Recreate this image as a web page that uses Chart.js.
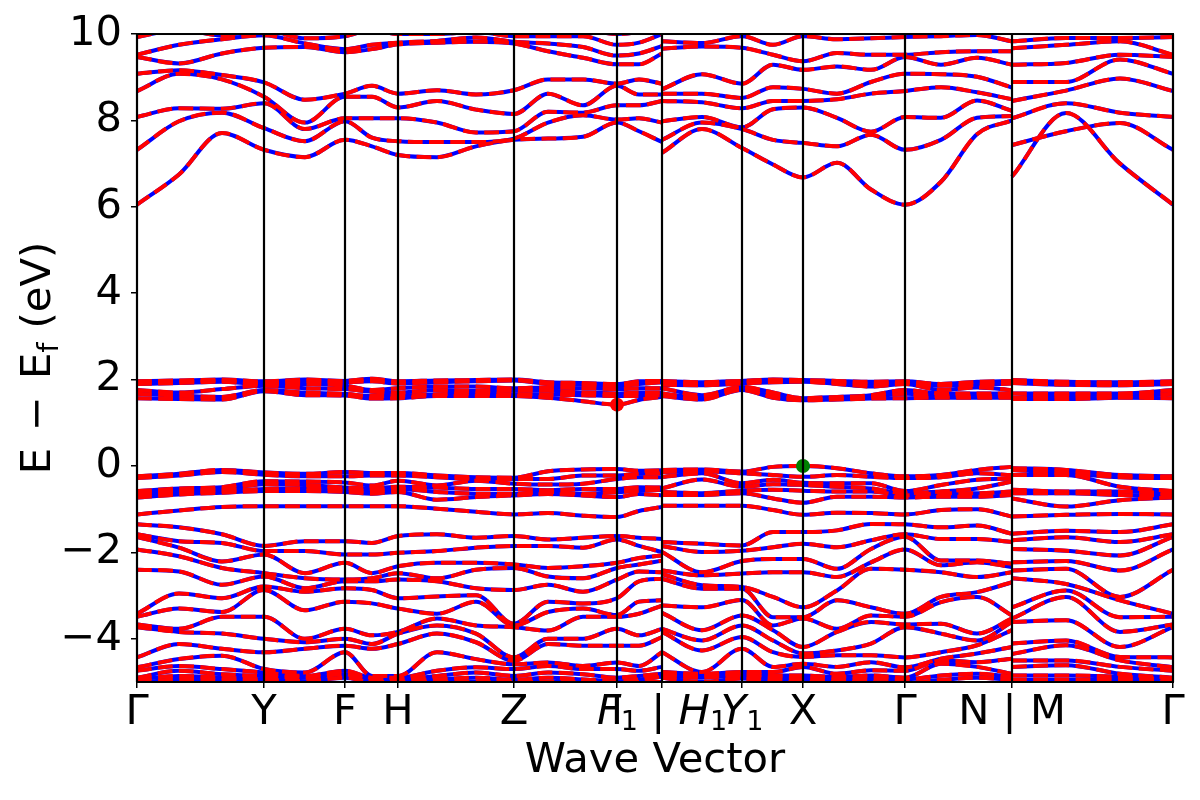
<!DOCTYPE html>
<html><head><meta charset="utf-8">
<script src="https://cdn.jsdelivr.net/npm/chart.js@4/dist/chart.umd.min.js"></script>
<style>html,body{margin:0;padding:0;background:#fff;}#wrap{width:1200px;height:800px;}</style>
</head><body><div id="wrap"><canvas id="c" width="1200" height="800"></canvas></div>
<script>
// ---- k-path (distance along path) ----
const tickPositions = [0, 127, 208, 261, 377, 480, 525, 605, 666, 768, 875, 1036];
const tickLabels = ["Γ", "Y", "F", "H", "Z", "I", "F₁ | H₁", "Y₁", "X", "Γ", "N | M", "Γ"];
const italicTickIdx = [6, 7];
const sampleK = [0, 42, 85, 127, 168, 208, 235, 261, 300, 339, 377, 411, 446, 480, 502, 525,
                 525, 565, 605, 636, 666, 700, 734, 768, 804, 840, 875,
                 875, 929, 983, 1036];
const pathBreaks = [16, 27];
const yTicks = [-4, -2, 0, 2, 4, 6, 8, 10];
const cbmK = [480], cbmE = [1.42];
const vbmK = [666], vbmE = [0.0];

// ---- energies (eV) at each sample k ----
const upperConduction = [
[6.05,7.32,8.08,8.68,9.08,9.47,9.52,9.93,10.30],
[6.75,7.98,8.28,9.08,9.16,9.32,9.75,10.10,10.40],
[7.71,8.18,8.27,8.95,9.05,9.55,9.88,9.97,10.30],
[7.32,7.82,8.40,8.55,8.88,9.68,9.97,10.10,10.40],
[7.15,7.52,7.80,7.95,8.48,9.70,9.78,9.90,10.30],
[7.55,7.98,8.05,8.55,8.62,9.58,9.65,9.95,10.20],
[7.40,7.60,8.05,8.55,8.80,9.65,9.75,10.10,10.30],
[7.20,7.52,8.05,8.30,8.62,9.76,9.80,10.00,10.30],
[7.15,7.50,7.95,8.45,8.70,9.80,9.84,10.00,10.30],
[7.40,7.50,7.72,8.25,8.60,9.82,9.92,10.05,10.30],
[7.55,7.58,7.75,8.15,8.70,9.78,9.82,9.95,10.20],
[7.58,7.95,8.20,8.62,8.95,9.60,9.78,9.95,10.10],
[7.62,8.12,8.18,8.35,8.95,9.45,9.70,9.95,10.10],
[7.95,8.02,8.35,8.80,8.85,9.30,9.50,9.75,10.00],
[7.75,8.05,8.35,8.60,8.95,9.30,9.55,9.80,10.05],
[7.50,7.95,8.45,8.60,8.85,9.55,9.72,10.00,10.20],
[7.25,7.55,7.98,8.45,8.62,8.72,9.66,9.83,10.10],
[7.80,7.95,8.08,8.42,8.62,9.07,9.71,9.79,10.10],
[7.36,7.80,7.84,8.28,8.52,8.85,9.68,9.95,10.10],
[6.98,7.55,8.26,8.45,8.77,9.29,9.52,9.75,10.10],
[6.68,7.48,8.30,8.45,8.73,9.17,9.37,9.95,10.20],
[7.02,7.40,8.06,8.49,8.62,9.25,9.56,9.88,10.10],
[6.40,7.67,7.74,8.62,8.89,9.17,9.52,9.90,10.10],
[6.05,7.32,8.08,8.68,9.08,9.47,9.52,9.93,10.30],
[6.58,7.55,8.06,8.77,9.07,9.29,9.58,9.95,10.20],
[7.68,8.06,8.46,8.65,9.01,9.45,9.60,9.98,10.20],
[8.00,8.10,8.22,8.49,8.76,9.29,9.60,9.83,10.10],
[6.70,7.43,8.05,8.45,8.89,9.29,9.67,9.83,10.10],
[8.17,7.75,8.40,8.69,8.89,9.33,9.75,9.91,10.10],
[7.00,7.94,8.18,8.97,9.41,9.52,9.83,9.91,10.10],
[6.05,7.32,8.08,8.68,9.08,9.47,9.52,9.93,10.30]
];
const lowerConduction = [
[1.57,1.67,1.76,1.90,1.93,1.96],
[1.55,1.63,1.70,1.92,1.95,1.98],
[1.54,1.60,1.78,1.95,1.97,2.00],
[1.73,1.76,1.86,1.89,1.92,1.96],
[1.64,1.70,1.80,1.90,1.97,2.00],
[1.63,1.67,1.78,1.86,1.94,1.97],
[1.56,1.62,1.72,1.76,1.96,2.02],
[1.57,1.63,1.70,1.80,1.91,1.96],
[1.62,1.66,1.76,1.84,1.94,1.98],
[1.62,1.68,1.74,1.84,1.96,1.99],
[1.62,1.66,1.74,1.80,1.98,2.00],
[1.58,1.65,1.74,1.82,1.90,1.94],
[1.50,1.64,1.70,1.80,1.88,1.92],
[1.42,1.62,1.68,1.78,1.86,1.90],
[1.53,1.62,1.70,1.80,1.90,1.96],
[1.60,1.64,1.70,1.80,1.94,1.97],
[1.62,1.68,1.80,1.88,1.91,1.97],
[1.54,1.58,1.64,1.87,1.91,1.94],
[1.76,1.80,1.83,1.91,1.95,1.97],
[1.58,1.62,1.70,1.94,1.97,2.00],
[1.52,1.54,1.57,1.95,1.97,1.99],
[1.54,1.56,1.60,1.90,1.94,1.97],
[1.56,1.60,1.64,1.84,1.90,1.95],
[1.57,1.67,1.76,1.90,1.93,1.96],
[1.58,1.62,1.68,1.76,1.86,1.90],
[1.58,1.62,1.68,1.82,1.88,1.95],
[1.58,1.62,1.68,1.76,1.91,1.97],
[1.55,1.58,1.68,1.92,1.95,1.99],
[1.55,1.64,1.68,1.88,1.91,1.95],
[1.58,1.62,1.68,1.87,1.91,1.94],
[1.57,1.67,1.76,1.90,1.93,1.96]
];
const upperValence = [
[-0.24,-0.28,-0.58,-0.63,-0.68,-0.73,-1.12],
[-0.18,-0.22,-0.52,-0.57,-0.61,-0.66,-1.03],
[-0.09,-0.14,-0.49,-0.54,-0.58,-0.62,-0.95],
[-0.15,-0.20,-0.35,-0.42,-0.53,-0.58,-0.93],
[-0.18,-0.24,-0.36,-0.44,-0.52,-0.58,-0.93],
[-0.14,-0.24,-0.38,-0.50,-0.55,-0.60,-0.93],
[-0.16,-0.22,-0.45,-0.52,-0.58,-0.64,-0.93],
[-0.16,-0.22,-0.34,-0.48,-0.53,-0.60,-0.93],
[-0.22,-0.26,-0.45,-0.50,-0.60,-0.78,-0.99],
[-0.26,-0.30,-0.34,-0.53,-0.64,-0.72,-1.06],
[-0.27,-0.30,-0.41,-0.53,-0.64,-0.68,-1.12],
[-0.12,-0.30,-0.43,-0.56,-0.60,-0.65,-1.09],
[-0.08,-0.22,-0.41,-0.53,-0.64,-0.68,-1.15],
[-0.07,-0.22,-0.30,-0.53,-0.61,-0.72,-1.18],
[-0.11,-0.18,-0.26,-0.49,-0.57,-0.65,-1.04],
[-0.10,-0.17,-0.26,-0.50,-0.55,-0.68,-0.95],
[-0.09,-0.14,-0.25,-0.52,-0.60,-0.67,-0.92],
[-0.08,-0.12,-0.17,-0.31,-0.63,-0.67,-0.92],
[-0.13,-0.17,-0.40,-0.48,-0.57,-0.63,-0.92],
[-0.02,-0.21,-0.32,-0.42,-0.55,-0.75,-1.02],
[0.00,-0.25,-0.39,-0.44,-0.57,-0.85,-1.13],
[-0.05,-0.21,-0.40,-0.48,-0.59,-0.71,-1.08],
[-0.17,-0.25,-0.40,-0.52,-0.59,-0.71,-1.09],
[-0.24,-0.28,-0.58,-0.63,-0.68,-0.73,-1.12],
[-0.21,-0.26,-0.44,-0.59,-0.63,-0.71,-1.02],
[-0.09,-0.17,-0.32,-0.52,-0.63,-0.71,-1.00],
[-0.02,-0.21,-0.29,-0.36,-0.59,-0.67,-1.17],
[-0.05,-0.09,-0.21,-0.55,-0.63,-0.75,-1.17],
[-0.09,-0.17,-0.21,-0.59,-0.63,-0.94,-1.13],
[-0.21,-0.26,-0.48,-0.59,-0.67,-0.79,-1.11],
[-0.24,-0.28,-0.58,-0.63,-0.68,-0.73,-1.12]
];
const lowerValence = [
[-1.35,-1.58,-1.64,-1.93,-2.40,-3.42,-3.49,-3.67,-3.73,-4.43,-4.66,-4.74,-4.90,-4.94,-5.02,-5.10],
[-1.42,-1.74,-1.89,-2.09,-2.44,-2.95,-3.30,-3.77,-3.84,-4.12,-4.47,-4.63,-4.74,-4.86,-4.94,-5.10],
[-1.58,-1.78,-2.21,-2.36,-2.75,-3.06,-3.38,-3.49,-3.88,-4.23,-4.39,-4.70,-4.82,-4.90,-4.96,-5.10],
[-1.85,-1.97,-2.05,-2.48,-2.56,-2.79,-2.87,-3.49,-4.00,-4.31,-4.70,-4.78,-4.86,-4.94,-4.98,-5.10],
[-1.74,-1.97,-2.48,-2.60,-2.83,-2.91,-3.34,-4.00,-4.08,-4.23,-4.78,-4.86,-4.90,-4.98,-5.05,-5.10],
[-1.74,-2.05,-2.24,-2.63,-2.67,-2.83,-3.14,-3.77,-4.00,-4.16,-4.31,-4.74,-4.82,-4.90,-5.02,-5.10],
[-1.78,-2.05,-2.48,-2.60,-2.67,-2.87,-3.18,-3.92,-4.12,-4.23,-4.86,-4.90,-4.94,-5.00,-5.05,-5.10],
[-1.62,-2.01,-2.32,-2.48,-2.63,-3.06,-3.30,-3.84,-3.88,-4.12,-4.86,-4.90,-4.94,-5.00,-5.05,-5.10],
[-1.58,-1.97,-2.24,-2.60,-2.67,-3.02,-3.42,-3.53,-3.69,-3.88,-4.31,-4.74,-4.86,-4.94,-5.00,-5.10],
[-1.66,-1.89,-2.24,-2.40,-2.83,-2.99,-3.14,-3.69,-3.88,-4.08,-4.47,-4.66,-4.78,-4.90,-5.00,-5.10],
[-1.62,-1.85,-2.28,-2.36,-2.87,-3.65,-3.69,-3.73,-4.43,-4.51,-4.59,-4.70,-4.86,-4.95,-5.00,-5.10],
[-1.70,-1.85,-2.36,-2.56,-2.75,-3.14,-3.38,-3.81,-4.00,-4.12,-4.55,-4.63,-4.78,-4.90,-5.00,-5.10],
[-1.66,-1.89,-2.32,-2.60,-2.91,-3.18,-3.30,-3.49,-4.00,-4.16,-4.63,-4.70,-4.82,-4.94,-5.00,-5.10],
[-1.62,-1.70,-2.24,-2.36,-2.63,-3.06,-3.45,-3.49,-3.77,-4.16,-4.55,-4.70,-4.90,-4.98,-5.02,-5.10],
[-1.66,-1.85,-2.13,-2.28,-2.44,-2.67,-3.14,-3.42,-3.92,-4.16,-4.63,-4.74,-4.86,-4.94,-5.00,-5.10],
[-1.69,-1.99,-2.07,-2.19,-2.46,-2.61,-3.11,-3.23,-3.77,-3.96,-4.31,-4.65,-4.81,-4.88,-5.00,-5.10],
[-1.76,-1.85,-1.99,-2.42,-2.50,-2.61,-3.23,-3.40,-3.77,-3.84,-4.31,-4.77,-4.81,-4.85,-4.90,-5.10],
[-1.80,-1.99,-2.46,-2.53,-2.76,-2.84,-3.27,-3.80,-4.04,-4.27,-4.77,-4.81,-4.85,-4.90,-5.00,-5.10],
[-1.84,-1.96,-2.20,-2.49,-2.80,-2.84,-3.10,-3.46,-3.69,-3.96,-4.23,-4.77,-4.81,-4.85,-4.92,-5.10],
[-1.53,-1.88,-2.15,-2.46,-3.03,-3.50,-3.69,-3.80,-4.04,-4.31,-4.65,-4.77,-4.85,-4.92,-5.00,-5.10],
[-1.53,-1.80,-2.15,-2.46,-3.27,-3.50,-3.53,-4.19,-4.34,-4.42,-4.58,-4.65,-4.85,-4.92,-5.00,-5.10],
[-1.49,-1.88,-2.38,-2.57,-2.88,-3.11,-3.77,-3.84,-4.27,-4.38,-4.65,-4.81,-4.88,-4.95,-5.00,-5.10],
[-1.34,-1.72,-1.92,-2.23,-2.38,-3.27,-3.46,-3.61,-4.11,-4.38,-4.54,-4.73,-4.85,-4.92,-5.00,-5.10],
[-1.35,-1.58,-1.64,-1.93,-2.40,-3.42,-3.49,-3.67,-3.73,-4.43,-4.66,-4.74,-4.90,-4.94,-5.02,-5.10],
[-1.42,-1.69,-2.19,-2.30,-2.46,-3.03,-3.15,-3.65,-3.88,-4.31,-4.46,-4.50,-4.58,-4.85,-4.95,-5.10],
[-1.38,-1.69,-2.19,-2.23,-2.57,-2.92,-3.03,-3.88,-4.04,-4.15,-4.34,-4.54,-4.65,-4.81,-4.90,-5.05],
[-1.57,-1.76,-2.26,-2.34,-2.46,-2.69,-3.46,-3.53,-3.61,-3.80,-4.19,-4.46,-4.81,-4.88,-4.95,-5.10],
[-1.57,-1.72,-1.92,-2.23,-2.42,-2.60,-3.27,-3.53,-3.61,-4.11,-4.35,-4.50,-4.65,-4.85,-4.95,-5.10],
[-1.50,-1.65,-1.96,-2.20,-2.38,-2.73,-2.88,-3.03,-3.57,-4.04,-4.15,-4.50,-4.61,-4.85,-4.95,-5.10],
[-1.53,-1.76,-2.07,-2.42,-3.03,-3.11,-3.50,-3.84,-4.19,-4.42,-4.50,-4.65,-4.81,-4.88,-4.95,-5.10],
[-1.35,-1.58,-1.64,-1.93,-2.40,-3.42,-3.49,-3.67,-3.73,-4.43,-4.66,-4.74,-4.90,-4.94,-5.02,-5.10]
];

// ---- build datasets ----
const FONT = "'DejaVu Sans', 'Liberation Sans', sans-serif";
const FS = 41.7, SUB = 27;
function bandsFrom(levels) {
  const nb = levels[0].length, out = [];
  for (let b = 0; b < nb; b++) {
    const pts = [];
    for (let i = 0; i < sampleK.length; i++) {
      if (pathBreaks.includes(i)) pts.push({x: sampleK[i], y: null});
      pts.push({x: sampleK[i], y: levels[i][b]});
    }
    out.push(pts);
  }
  return out;
}
const allBands = [].concat(bandsFrom(upperConduction), bandsFrom(lowerConduction),
                           bandsFrom(upperValence), bandsFrom(lowerValence));
const datasets = [];
allBands.forEach(pts => {
  const common = {type: 'line', data: pts, pointRadius: 0, borderWidth: 4, fill: false,
    cubicInterpolationMode: 'monotone', spanGaps: false, clip: 0, borderCapStyle: 'butt'};
  datasets.push(Object.assign({}, common, {borderColor: '#0000ff', order: 3}));
  datasets.push(Object.assign({}, common, {borderColor: '#ff0000', borderDash: [14.8, 6.4], order: 2}));
});
datasets.push({type: 'scatter', data: cbmK.map((k, i) => ({x: k, y: cbmE[i]})), pointRadius: 7,
  backgroundColor: '#ff0000', borderWidth: 0, order: 1, clip: 0});
datasets.push({type: 'scatter', data: vbmK.map((k, i) => ({x: k, y: vbmE[i]})), pointRadius: 7,
  backgroundColor: '#008000', borderWidth: 0, order: 1, clip: 0});

function labelRuns(label, italic) {
  const runs = [];
  for (const ch of label) {
    let r;
    if (ch === '₁') r = {t: '1', font: SUB + 'px ' + FONT, dy: 6};
    else if (italic && /[A-Za-z]/.test(ch)) r = {t: ch, font: 'italic ' + FS + 'px ' + FONT, dy: 0};
    else r = {t: ch, font: FS + 'px ' + FONT, dy: 0};
    const last = runs[runs.length - 1];
    if (last && last.font === r.font && last.dy === r.dy) last.t += r.t; else runs.push(r);
  }
  return runs;
}

const overlay = {
  id: 'overlay',
  afterDatasetsDraw(chart) {
    const ctx = chart.ctx, a = chart.chartArea, xs = chart.scales.x;
    ctx.save();
    ctx.strokeStyle = '#000';
    ctx.lineWidth = 2.2;
    tickPositions.forEach(v => {
      const px = Math.round(xs.getPixelForValue(v));
      ctx.beginPath(); ctx.moveTo(px, a.top); ctx.lineTo(px, a.bottom); ctx.stroke();
    });
    ctx.lineWidth = 2;
    ctx.strokeRect(a.left, a.top, a.right - a.left, a.bottom - a.top);
    ctx.restore();
  },
  afterDraw(chart) {
    const ctx = chart.ctx, a = chart.chartArea, xs = chart.scales.x;
    ctx.save();
    ctx.fillStyle = '#000';
    ctx.textBaseline = 'alphabetic';
    ctx.textAlign = 'left';
    tickPositions.forEach((v, i) => {
      const runs = labelRuns(tickLabels[i], italicTickIdx.includes(i));
      let w = 0;
      runs.forEach(r => { ctx.font = r.font; r.w = ctx.measureText(r.t).width; w += r.w; });
      let x = xs.getPixelForValue(v) - w / 2;
      runs.forEach(r => { ctx.font = r.font; ctx.fillText(r.t, x, a.bottom + 42 + r.dy); x += r.w; });
    });
    const big = FS + 'px ' + FONT, small = '29px ' + FONT;
    const parts = [{t: 'E', f: big, dy: 0, gap: 17}, {t: '−', f: big, dy: 0, gap: 17},
                   {t: 'E', f: big, dy: 0, gap: 0}, {t: 'f', f: small, dy: 8, gap: 14},
                   {t: '(eV)', f: big, dy: 0, gap: 0}];
    let total = 0;
    parts.forEach(p => { ctx.font = p.f; p.w = ctx.measureText(p.t).width; total += p.w + p.gap; });
    ctx.translate(50, (a.top + a.bottom) / 2);
    ctx.rotate(-Math.PI / 2);
    let u = -total / 2;
    parts.forEach(p => { ctx.font = p.f; ctx.fillText(p.t, u, p.dy); u += p.w + p.gap; });
    ctx.restore();
  }
};

new Chart(document.getElementById('c'), {
  data: {datasets},
  options: {
    responsive: false, animation: false, events: [],
    layout: {padding: {left: 0, right: 27, top: 33, bottom: 0}},
    plugins: {legend: {display: false}, tooltip: {enabled: false}},
    scales: {
      x: {
        type: 'linear', min: 0, max: 1036,
        afterBuildTicks: s => { s.ticks = tickPositions.map(v => ({value: v})); },
        afterFit: s => { s.height = 118; },
        ticks: {display: false, autoSkip: false, maxRotation: 0, minRotation: 0},
        grid: {drawOnChartArea: false, drawTicks: true, tickLength: 6, color: '#000', lineWidth: 1.5},
        border: {display: false},
        title: {display: true, text: 'Wave Vector', color: '#000', font: {family: FONT, size: FS}, padding: {top: 0, bottom: 14}}
      },
      y: {
        type: 'linear', min: -5, max: 10,
        afterBuildTicks: s => { s.ticks = yTicks.map(v => ({value: v})); },
        afterFit: s => { s.width = 137; },
        ticks: {color: '#000', padding: 9, font: {family: FONT, size: FS},
          callback: v => String(v).replace('-', '−')},
        grid: {drawOnChartArea: false, drawTicks: true, tickLength: 6, color: '#000', lineWidth: 1.5},
        border: {display: false}
      }
    }
  },
  plugins: [overlay]
});
</script>
</body></html>
